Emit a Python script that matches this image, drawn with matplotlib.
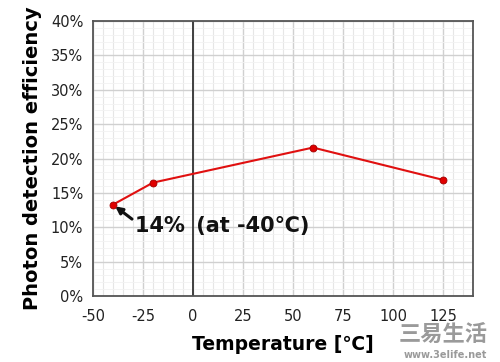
import matplotlib
matplotlib.use("Agg")
import matplotlib.pyplot as plt
from matplotlib.ticker import MultipleLocator, FuncFormatter

temps = [-40, -20, 60, 125]
pde = [13.3, 16.5, 21.6, 16.9]
xticks = [-50, -25, 0, 25, 50, 75, 100, 125]
yticks = [0, 5, 10, 15, 20, 25, 30, 35, 40]

plt.rcParams['font.family'] = ['DejaVu Sans', 'Noto Sans CJK JP']
plt.rcParams['axes.unicode_minus'] = False

fig = plt.figure(figsize=(5, 3.62), dpi=100)
ax = fig.add_axes([0.186, 0.182, 0.76, 0.760])

ax.set_xlim(-50, 140)
ax.set_ylim(0, 40)
ax.set_xticks(xticks)
ax.set_yticks(yticks)
ax.yaxis.set_major_formatter(FuncFormatter(lambda v, p: f"{int(v)}%"))
ax.xaxis.set_minor_locator(MultipleLocator(5))
ax.yaxis.set_minor_locator(MultipleLocator(1))
ax.grid(which='major', color='#d0d0d0', linewidth=1.0)
ax.grid(which='minor', axis='x', color='#e6e6e6', linewidth=0.8)
ax.grid(which='minor', axis='y', color='#f2f2f2', linewidth=0.6)
ax.set_axisbelow(True)
ax.tick_params(which='both', length=0, labelsize=10.5, colors='#222222')
ax.tick_params(axis='x', pad=9)
ax.tick_params(axis='y', pad=7)
for s in ax.spines.values():
    s.set_color('#555555')
    s.set_linewidth(1.3)
ax.axvline(0, color='#404040', linewidth=1.4, zorder=2)

ax.plot(temps, pde, color='#e01010', linewidth=1.5, marker='o', markersize=5,
        markerfacecolor='#e00000', markeredgecolor='#a00000', markeredgewidth=0.6, zorder=3)

ax.annotate("", xy=(temps[0], pde[0]), xytext=(-30.5, 11.2),
            arrowprops=dict(arrowstyle='-|>', color='#111111', lw=2.2,
                            shrinkA=0, shrinkB=2, mutation_scale=10))
ax.text(-29, 10.2, "14%\u2009 (at -40\u2103)", fontsize=15, fontweight='bold',
        color='#111111', va='center', ha='left')

ax.set_xlabel("Temperature [\u2103]", fontsize=13.5, fontweight='bold', labelpad=8)
ax.set_ylabel("Photon detection efficiency", fontsize=14, fontweight='bold', labelpad=6)

fig.text(0.975, 0.045, "三易生活", fontsize=16, fontweight='bold', color='#9a9a9a',
         ha='right', va='bottom', family=['Noto Sans CJK SC'])
fig.text(0.975, 0.005, "www.3elife.net", fontsize=7, fontweight='bold', color='#9a9a9a',
         ha='right', va='bottom')

fig.savefig("out.png", dpi=100)
